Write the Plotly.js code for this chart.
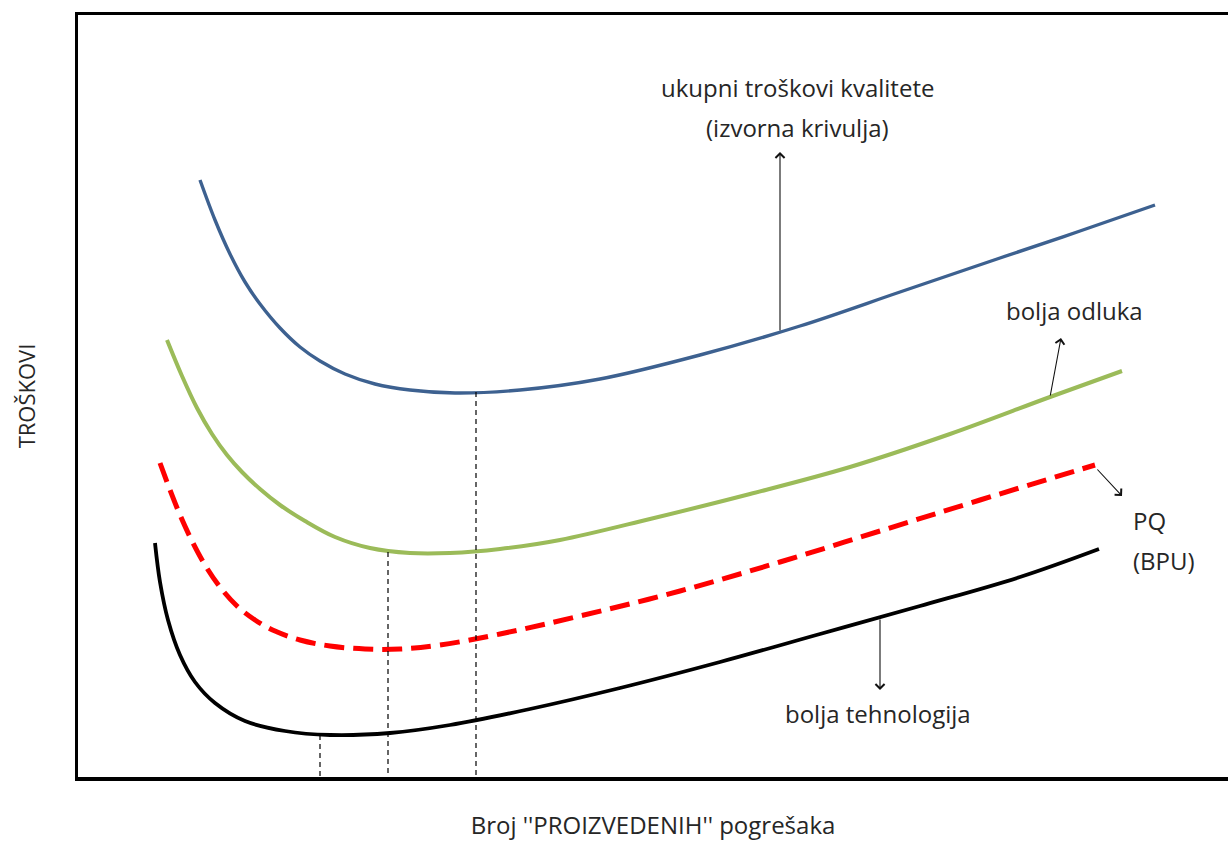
<!DOCTYPE html>
<html>
<head>
<meta charset="utf-8">
<script src="https://cdn.plot.ly/plotly-3.0.1.min.js"></script>
<style>html,body{margin:0;padding:0;background:#fff;}#chart{width:1228px;height:841px;}</style>
</head>
<body>
<div id="chart"></div>
<script>
// Values in arbitrary units (number of defects on x, cost on y)
const blueX = [122,137,152,167,182,202,222,242,267,297,332,377,442,522,622,722,822,922,1002,1077];
const blueY = [597,557,523,495,473,449,430,416,403,393,387,384,387,398,422,451,485,519,546,572];

const greenX = [89,104,119,134,149,164,182,202,227,257,292,332,372,422,482,572,672,772,872,972,1044];
const greenY = [437,401,369,343,322,305,288,272,256,240,229,224,224,228,237,258,283,310,343,380,406];

const redX = [82,92,102,114,127,142,159,177,197,222,252,287,322,362,422,502,602,702,802,902,1017];
const redY = [314,287,262,236,212,190,171,157,146,137,131,128,128,132,143,161,186,215,246,277,312];

const blackX = [77,82,90,102,117,137,167,207,252,312,372,452,542,642,742,842,942,1021];
const blackY = [234,195,157,122,95,74,56,46,42,44,52,68,89,115,143,171,200,228];

// Optimum markers (dropped to the x axis)
const optX = [242, 310, 398];
const optY = [42, 225, 385];

// Labels
const lblTotal1 = "ukupni troškovi kvalitete";
const lblTotal2 = "(izvorna krivulja)";
const lblDecision = "bolja odluka";
const lblPQ1 = "PQ";
const lblPQ2 = "(BPU)";
const lblTech = "bolja tehnologija";
const xTitle = "Broj ''PROIZVEDENIH'' pogrešaka";
const yTitle = "TROŠKOVI";

const FONT = "'Open Sans', Lato, sans-serif";
const TXT = "#262626";

const traces = [
  {x: blueX, y: blueY, mode: 'lines', line: {color: '#3D6190', width: 3.4, shape: 'spline', smoothing: 1}, hoverinfo: 'skip'},
  {x: greenX, y: greenY, mode: 'lines', line: {color: '#9BBB59', width: 4, shape: 'spline', smoothing: 1}, hoverinfo: 'skip'},
  {x: redX, y: redY, mode: 'lines', line: {color: '#FF0000', width: 5, shape: 'spline', smoothing: 1, dash: '20px,9px'}, hoverinfo: 'skip'},
  {x: blackX, y: blackY, mode: 'lines', line: {color: '#000000', width: 3.8, shape: 'spline', smoothing: 1}, hoverinfo: 'skip'}
];
optX.forEach((xv, i) => {
  traces.push({x: [xv, xv], y: [optY[i], 0], mode: 'lines',
    line: {color: '#000', width: 1.2, dash: '5px,4px'}, hoverinfo: 'skip'});
});

function arrow(tx, ty, hx, hy) {
  return {x: hx, y: hy, ax: tx, ay: ty, xref: 'x', yref: 'y', axref: 'x', ayref: 'y',
    showarrow: true, arrowhead: 4, arrowsize: 1.6, arrowwidth: 1.1, arrowcolor: '#111', text: ''};
}
function label(txt, x, y, xanchor) {
  return {x: x, y: y, xref: 'x', yref: 'y', text: txt, showarrow: false,
    xanchor: xanchor || 'center', yanchor: 'middle', font: {family: FONT, size: 24, color: TXT}};
}

const annotations = [
  arrow(702, 445, 702, 625),
  arrow(972, 380, 983, 439),
  arrow(1018, 309, 1044, 281),
  arrow(802, 159, 802, 87),
  label(lblTotal1, 719, 690),
  label(lblTotal2, 719, 650),
  label(lblDecision, 996, 467),
  label(lblPQ1, 1053, 257, 'left'),
  label(lblPQ2, 1053, 217, 'left'),
  label(lblTech, 800, 64)
];

const layout = {
  width: 1228, height: 841,
  margin: {l: 78, r: 0, t: 15, b: 64},
  paper_bgcolor: '#fff', plot_bgcolor: '#fff',
  showlegend: false,
  xaxis: {range: [0, 1150], showgrid: false, zeroline: false, showticklabels: false, ticks: '',
    showline: true, linewidth: 3.5, linecolor: '#000', mirror: true, fixedrange: true,
    title: {text: xTitle, font: {family: FONT, size: 24, color: TXT}, standoff: 38}},
  yaxis: {range: [0, 762], showgrid: false, zeroline: false, showticklabels: false, ticks: '',
    showline: true, linewidth: 3.5, linecolor: '#000', fixedrange: true,
    title: {text: yTitle, font: {family: FONT, size: 22, color: TXT}, standoff: 34}},
  annotations: annotations
};

Plotly.newPlot('chart', traces, layout, {displayModeBar: false, staticPlot: true});
</script>
</body>
</html>
